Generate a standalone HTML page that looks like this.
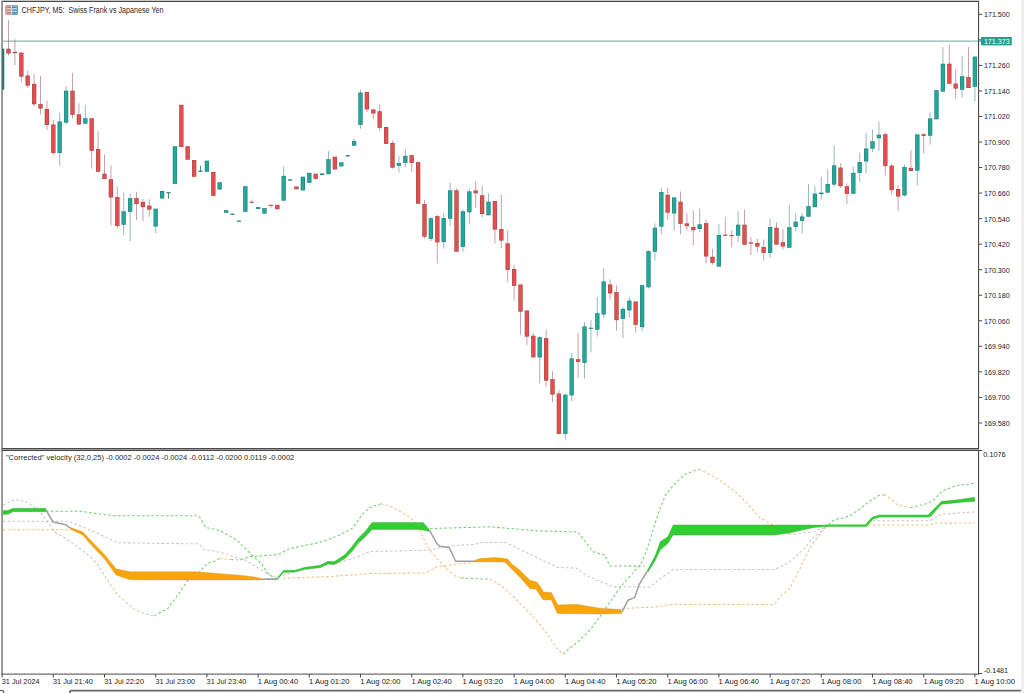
<!DOCTYPE html>
<html><head><meta charset="utf-8"><style>
html,body{margin:0;padding:0;background:#fff;width:1024px;height:693px;overflow:hidden}
svg{display:block}
text{font-family:'Liberation Sans',sans-serif}
</style></head><body>
<svg width="1024" height="693" viewBox="0 0 1024 693">
<rect x="0" y="0" width="1024" height="693" fill="#ffffff"/>
<rect x="1021" y="0" width="3" height="693" fill="#eeeeee"/>
<rect x="1.5" y="0" width="977.5" height="1" fill="#cacaca"/>
<defs><clipPath id="cm"><rect x="2.8" y="2" width="975.4" height="446"/></clipPath><clipPath id="ci"><rect x="2.8" y="451" width="975.4" height="222.5"/></clipPath></defs>
<g clip-path="url(#cm)">
<rect x="2" y="40.6" width="976.5" height="1" fill="#6aaaa6"/>
<rect x="1.60" y="46.00" width="1" height="46.00" fill="#5a8e90" opacity="0.62"/>
<rect x="0.00" y="48.80" width="4.2" height="40.70" fill="#26a69a"/>
<rect x="0.25" y="49.05" width="3.7" height="40.20" fill="none" stroke="#2a5e58" stroke-width="0.5" stroke-opacity="0.55"/>
<rect x="8.00" y="20.20" width="1" height="35.50" fill="#a86878" opacity="0.62"/>
<rect x="6.40" y="48.80" width="4.2" height="4.60" fill="#e2504e"/>
<rect x="6.65" y="49.05" width="3.7" height="4.10" fill="none" stroke="#6a4040" stroke-width="0.5" stroke-opacity="0.55"/>
<rect x="14.40" y="39.20" width="1" height="26.00" fill="#a86878" opacity="0.62"/>
<rect x="12.80" y="51.90" width="4.2" height="1.20" fill="#e2504e"/>
<rect x="13.05" y="52.15" width="3.7" height="0.70" fill="none" stroke="#6a4040" stroke-width="0.5" stroke-opacity="0.55"/>
<rect x="20.80" y="52.70" width="1" height="29.50" fill="#a86878" opacity="0.62"/>
<rect x="19.20" y="52.70" width="4.2" height="23.80" fill="#e2504e"/>
<rect x="19.45" y="52.95" width="3.7" height="23.30" fill="none" stroke="#6a4040" stroke-width="0.5" stroke-opacity="0.55"/>
<rect x="27.20" y="70.40" width="1" height="17.30" fill="#a86878" opacity="0.62"/>
<rect x="25.60" y="75.60" width="4.2" height="10.00" fill="#e2504e"/>
<rect x="25.85" y="75.85" width="3.7" height="9.50" fill="none" stroke="#6a4040" stroke-width="0.5" stroke-opacity="0.55"/>
<rect x="33.60" y="73.90" width="1" height="32.50" fill="#a86878" opacity="0.62"/>
<rect x="32.00" y="83.90" width="4.2" height="20.30" fill="#e2504e"/>
<rect x="32.25" y="84.15" width="3.7" height="19.80" fill="none" stroke="#6a4040" stroke-width="0.5" stroke-opacity="0.55"/>
<rect x="40.00" y="76.00" width="1" height="38.60" fill="#a86878" opacity="0.62"/>
<rect x="38.40" y="104.20" width="4.2" height="4.30" fill="#e2504e"/>
<rect x="38.65" y="104.45" width="3.7" height="3.80" fill="none" stroke="#6a4040" stroke-width="0.5" stroke-opacity="0.55"/>
<rect x="46.40" y="100.70" width="1" height="29.30" fill="#a86878" opacity="0.62"/>
<rect x="44.80" y="109.00" width="4.2" height="16.00" fill="#e2504e"/>
<rect x="45.05" y="109.25" width="3.7" height="15.50" fill="none" stroke="#6a4040" stroke-width="0.5" stroke-opacity="0.55"/>
<rect x="52.80" y="119.80" width="1" height="34.90" fill="#a86878" opacity="0.62"/>
<rect x="51.20" y="124.60" width="4.2" height="28.40" fill="#e2504e"/>
<rect x="51.45" y="124.85" width="3.7" height="27.90" fill="none" stroke="#6a4040" stroke-width="0.5" stroke-opacity="0.55"/>
<rect x="59.20" y="112.80" width="1" height="53.20" fill="#5a8e90" opacity="0.62"/>
<rect x="57.60" y="121.50" width="4.2" height="31.50" fill="#26a69a"/>
<rect x="57.85" y="121.75" width="3.7" height="31.00" fill="none" stroke="#2a5e58" stroke-width="0.5" stroke-opacity="0.55"/>
<rect x="65.60" y="86.30" width="1" height="37.70" fill="#5a8e90" opacity="0.62"/>
<rect x="64.00" y="90.80" width="4.2" height="31.70" fill="#26a69a"/>
<rect x="64.25" y="91.05" width="3.7" height="31.20" fill="none" stroke="#2a5e58" stroke-width="0.5" stroke-opacity="0.55"/>
<rect x="72.00" y="73.00" width="1" height="45.60" fill="#a86878" opacity="0.62"/>
<rect x="70.40" y="90.80" width="4.2" height="24.00" fill="#e2504e"/>
<rect x="70.65" y="91.05" width="3.7" height="23.50" fill="none" stroke="#6a4040" stroke-width="0.5" stroke-opacity="0.55"/>
<rect x="78.40" y="103.30" width="1" height="21.70" fill="#a86878" opacity="0.62"/>
<rect x="76.80" y="114.50" width="4.2" height="9.90" fill="#e2504e"/>
<rect x="77.05" y="114.75" width="3.7" height="9.40" fill="none" stroke="#6a4040" stroke-width="0.5" stroke-opacity="0.55"/>
<rect x="84.80" y="105.00" width="1" height="18.60" fill="#5a8e90" opacity="0.62"/>
<rect x="83.20" y="118.40" width="4.2" height="5.20" fill="#26a69a"/>
<rect x="83.45" y="118.65" width="3.7" height="4.70" fill="none" stroke="#2a5e58" stroke-width="0.5" stroke-opacity="0.55"/>
<rect x="91.20" y="118.40" width="1" height="50.20" fill="#a86878" opacity="0.62"/>
<rect x="89.60" y="118.40" width="4.2" height="32.40" fill="#e2504e"/>
<rect x="89.85" y="118.65" width="3.7" height="31.90" fill="none" stroke="#6a4040" stroke-width="0.5" stroke-opacity="0.55"/>
<rect x="97.60" y="131.40" width="1" height="40.30" fill="#a86878" opacity="0.62"/>
<rect x="96.00" y="149.00" width="4.2" height="22.70" fill="#e2504e"/>
<rect x="96.25" y="149.25" width="3.7" height="22.20" fill="none" stroke="#6a4040" stroke-width="0.5" stroke-opacity="0.55"/>
<rect x="104.00" y="154.70" width="1" height="24.30" fill="#a86878" opacity="0.62"/>
<rect x="102.40" y="173.80" width="4.2" height="5.20" fill="#e2504e"/>
<rect x="102.65" y="174.05" width="3.7" height="4.70" fill="none" stroke="#6a4040" stroke-width="0.5" stroke-opacity="0.55"/>
<rect x="110.40" y="165.10" width="1" height="60.50" fill="#a86878" opacity="0.62"/>
<rect x="108.80" y="179.30" width="4.2" height="18.10" fill="#e2504e"/>
<rect x="109.05" y="179.55" width="3.7" height="17.60" fill="none" stroke="#6a4040" stroke-width="0.5" stroke-opacity="0.55"/>
<rect x="116.80" y="186.70" width="1" height="41.50" fill="#a86878" opacity="0.62"/>
<rect x="115.20" y="197.10" width="4.2" height="28.90" fill="#e2504e"/>
<rect x="115.45" y="197.35" width="3.7" height="28.40" fill="none" stroke="#6a4040" stroke-width="0.5" stroke-opacity="0.55"/>
<rect x="123.20" y="192.70" width="1" height="42.40" fill="#5a8e90" opacity="0.62"/>
<rect x="121.60" y="211.40" width="4.2" height="13.30" fill="#26a69a"/>
<rect x="121.85" y="211.65" width="3.7" height="12.80" fill="none" stroke="#2a5e58" stroke-width="0.5" stroke-opacity="0.55"/>
<rect x="129.60" y="193.60" width="1" height="47.60" fill="#5a8e90" opacity="0.62"/>
<rect x="128.00" y="198.20" width="4.2" height="13.60" fill="#26a69a"/>
<rect x="128.25" y="198.45" width="3.7" height="13.10" fill="none" stroke="#2a5e58" stroke-width="0.5" stroke-opacity="0.55"/>
<rect x="136.00" y="191.80" width="1" height="28.20" fill="#a86878" opacity="0.62"/>
<rect x="134.40" y="198.20" width="4.2" height="5.80" fill="#e2504e"/>
<rect x="134.65" y="198.45" width="3.7" height="5.30" fill="none" stroke="#6a4040" stroke-width="0.5" stroke-opacity="0.55"/>
<rect x="142.40" y="198.80" width="1" height="22.50" fill="#a86878" opacity="0.62"/>
<rect x="140.80" y="201.90" width="4.2" height="5.20" fill="#e2504e"/>
<rect x="141.05" y="202.15" width="3.7" height="4.70" fill="none" stroke="#6a4040" stroke-width="0.5" stroke-opacity="0.55"/>
<rect x="148.80" y="199.30" width="1" height="17.30" fill="#a86878" opacity="0.62"/>
<rect x="147.20" y="205.70" width="4.2" height="3.80" fill="#e2504e"/>
<rect x="147.45" y="205.95" width="3.7" height="3.30" fill="none" stroke="#6a4040" stroke-width="0.5" stroke-opacity="0.55"/>
<rect x="155.20" y="208.80" width="1" height="24.60" fill="#5a8e90" opacity="0.62"/>
<rect x="153.60" y="208.80" width="4.2" height="17.70" fill="#26a69a"/>
<rect x="153.85" y="209.05" width="3.7" height="17.20" fill="none" stroke="#2a5e58" stroke-width="0.5" stroke-opacity="0.55"/>
<rect x="161.60" y="191.00" width="1" height="7.40" fill="#5a8e90" opacity="0.62"/>
<rect x="160.00" y="191.00" width="4.2" height="7.40" fill="#26a69a"/>
<rect x="160.25" y="191.25" width="3.7" height="6.90" fill="none" stroke="#2a5e58" stroke-width="0.5" stroke-opacity="0.55"/>
<rect x="168.00" y="192.00" width="1" height="6.60" fill="#3f867c" opacity="0.95"/>
<rect x="166.40" y="192.00" width="4.2" height="1.40" fill="#3f867c" opacity="0.9"/>
<rect x="174.40" y="146.40" width="1" height="37.40" fill="#5a8e90" opacity="0.62"/>
<rect x="172.80" y="146.40" width="4.2" height="37.40" fill="#26a69a"/>
<rect x="173.05" y="146.65" width="3.7" height="36.90" fill="none" stroke="#2a5e58" stroke-width="0.5" stroke-opacity="0.55"/>
<rect x="180.80" y="104.90" width="1" height="42.10" fill="#a86878" opacity="0.62"/>
<rect x="179.20" y="104.90" width="4.2" height="42.10" fill="#e2504e"/>
<rect x="179.45" y="105.15" width="3.7" height="41.60" fill="none" stroke="#6a4040" stroke-width="0.5" stroke-opacity="0.55"/>
<rect x="187.20" y="146.40" width="1" height="13.20" fill="#a86878" opacity="0.62"/>
<rect x="185.60" y="146.40" width="4.2" height="13.20" fill="#e2504e"/>
<rect x="185.85" y="146.65" width="3.7" height="12.70" fill="none" stroke="#6a4040" stroke-width="0.5" stroke-opacity="0.55"/>
<rect x="193.60" y="160.00" width="1" height="16.70" fill="#a86878" opacity="0.62"/>
<rect x="192.00" y="160.00" width="4.2" height="16.70" fill="#e2504e"/>
<rect x="192.25" y="160.25" width="3.7" height="16.20" fill="none" stroke="#6a4040" stroke-width="0.5" stroke-opacity="0.55"/>
<rect x="200.00" y="165.60" width="1" height="6.00" fill="#3f867c" opacity="0.95"/>
<rect x="198.40" y="170.60" width="4.2" height="1.40" fill="#3f867c" opacity="0.9"/>
<rect x="206.40" y="160.80" width="1" height="10.90" fill="#5a8e90" opacity="0.62"/>
<rect x="204.80" y="160.80" width="4.2" height="10.90" fill="#26a69a"/>
<rect x="205.05" y="161.05" width="3.7" height="10.40" fill="none" stroke="#2a5e58" stroke-width="0.5" stroke-opacity="0.55"/>
<rect x="212.80" y="172.00" width="1" height="23.80" fill="#a86878" opacity="0.62"/>
<rect x="211.20" y="172.00" width="4.2" height="23.80" fill="#e2504e"/>
<rect x="211.45" y="172.25" width="3.7" height="23.30" fill="none" stroke="#6a4040" stroke-width="0.5" stroke-opacity="0.55"/>
<rect x="219.20" y="182.40" width="1" height="7.00" fill="#5a8e90" opacity="0.62"/>
<rect x="217.60" y="182.40" width="4.2" height="7.00" fill="#26a69a"/>
<rect x="217.85" y="182.65" width="3.7" height="6.50" fill="none" stroke="#2a5e58" stroke-width="0.5" stroke-opacity="0.55"/>
<rect x="225.60" y="210.30" width="1" height="2.40" fill="#5a8e90" opacity="0.62"/>
<rect x="224.00" y="210.30" width="4.2" height="2.40" fill="#26a69a"/>
<rect x="224.25" y="210.55" width="3.7" height="1.90" fill="none" stroke="#2a5e58" stroke-width="0.5" stroke-opacity="0.55"/>
<rect x="232.00" y="213.60" width="1" height="1.00" fill="#3f867c" opacity="0.95"/>
<rect x="230.40" y="213.60" width="4.2" height="1.40" fill="#3f867c" opacity="0.9"/>
<rect x="238.40" y="220.50" width="1" height="1.00" fill="#3f867c" opacity="0.95"/>
<rect x="236.80" y="220.50" width="4.2" height="1.40" fill="#3f867c" opacity="0.9"/>
<rect x="244.80" y="186.40" width="1" height="25.40" fill="#5a8e90" opacity="0.62"/>
<rect x="243.20" y="186.40" width="4.2" height="25.40" fill="#26a69a"/>
<rect x="243.45" y="186.65" width="3.7" height="24.90" fill="none" stroke="#2a5e58" stroke-width="0.5" stroke-opacity="0.55"/>
<rect x="251.20" y="199.70" width="1" height="3.10" fill="#a86878" opacity="0.62"/>
<rect x="249.60" y="201.80" width="4.2" height="1.00" fill="#e2504e"/>
<rect x="249.85" y="202.05" width="3.7" height="0.50" fill="none" stroke="#6a4040" stroke-width="0.5" stroke-opacity="0.55"/>
<rect x="257.60" y="207.10" width="1" height="1.80" fill="#5a8e90" opacity="0.62"/>
<rect x="256.00" y="207.10" width="4.2" height="1.80" fill="#26a69a"/>
<rect x="256.25" y="207.35" width="3.7" height="1.30" fill="none" stroke="#2a5e58" stroke-width="0.5" stroke-opacity="0.55"/>
<rect x="264.00" y="208.20" width="1" height="5.30" fill="#5a8e90" opacity="0.62"/>
<rect x="262.40" y="208.20" width="4.2" height="5.30" fill="#26a69a"/>
<rect x="262.65" y="208.45" width="3.7" height="4.80" fill="none" stroke="#2a5e58" stroke-width="0.5" stroke-opacity="0.55"/>
<rect x="270.40" y="204.80" width="1" height="3.10" fill="#a86878" opacity="0.62"/>
<rect x="268.80" y="204.80" width="4.2" height="1.00" fill="#e2504e"/>
<rect x="269.05" y="205.05" width="3.7" height="0.50" fill="none" stroke="#6a4040" stroke-width="0.5" stroke-opacity="0.55"/>
<rect x="276.80" y="204.90" width="1" height="4.30" fill="#a86878" opacity="0.62"/>
<rect x="275.20" y="204.90" width="4.2" height="4.30" fill="#e2504e"/>
<rect x="275.45" y="205.15" width="3.7" height="3.80" fill="none" stroke="#6a4040" stroke-width="0.5" stroke-opacity="0.55"/>
<rect x="283.20" y="166.40" width="1" height="34.20" fill="#5a8e90" opacity="0.62"/>
<rect x="281.60" y="175.90" width="4.2" height="24.70" fill="#26a69a"/>
<rect x="281.85" y="176.15" width="3.7" height="24.20" fill="none" stroke="#2a5e58" stroke-width="0.5" stroke-opacity="0.55"/>
<rect x="289.60" y="179.20" width="1" height="1.80" fill="#3f867c" opacity="0.95"/>
<rect x="288.00" y="179.20" width="4.2" height="1.40" fill="#3f867c" opacity="0.9"/>
<rect x="296.00" y="186.60" width="1" height="2.60" fill="#a86878" opacity="0.62"/>
<rect x="294.40" y="186.60" width="4.2" height="2.60" fill="#e2504e"/>
<rect x="294.65" y="186.85" width="3.7" height="2.10" fill="none" stroke="#6a4040" stroke-width="0.5" stroke-opacity="0.55"/>
<rect x="302.40" y="176.80" width="1" height="13.50" fill="#5a8e90" opacity="0.62"/>
<rect x="300.80" y="176.80" width="4.2" height="13.50" fill="#26a69a"/>
<rect x="301.05" y="177.05" width="3.7" height="13.00" fill="none" stroke="#2a5e58" stroke-width="0.5" stroke-opacity="0.55"/>
<rect x="308.80" y="172.90" width="1" height="9.90" fill="#5a8e90" opacity="0.62"/>
<rect x="307.20" y="172.90" width="4.2" height="9.90" fill="#26a69a"/>
<rect x="307.45" y="173.15" width="3.7" height="9.40" fill="none" stroke="#2a5e58" stroke-width="0.5" stroke-opacity="0.55"/>
<rect x="315.20" y="173.80" width="1" height="5.90" fill="#a86878" opacity="0.62"/>
<rect x="313.60" y="173.80" width="4.2" height="5.00" fill="#e2504e"/>
<rect x="313.85" y="174.05" width="3.7" height="4.50" fill="none" stroke="#6a4040" stroke-width="0.5" stroke-opacity="0.55"/>
<rect x="321.60" y="173.60" width="1" height="1.40" fill="#5a8e90" opacity="0.62"/>
<rect x="320.00" y="173.60" width="4.2" height="1.40" fill="#26a69a"/>
<rect x="320.25" y="173.85" width="3.7" height="0.90" fill="none" stroke="#2a5e58" stroke-width="0.5" stroke-opacity="0.55"/>
<rect x="328.00" y="151.10" width="1" height="23.00" fill="#5a8e90" opacity="0.62"/>
<rect x="326.40" y="159.20" width="4.2" height="14.90" fill="#26a69a"/>
<rect x="326.65" y="159.45" width="3.7" height="14.40" fill="none" stroke="#2a5e58" stroke-width="0.5" stroke-opacity="0.55"/>
<rect x="334.40" y="156.80" width="1" height="12.60" fill="#a86878" opacity="0.62"/>
<rect x="332.80" y="156.80" width="4.2" height="12.60" fill="#e2504e"/>
<rect x="333.05" y="157.05" width="3.7" height="12.10" fill="none" stroke="#6a4040" stroke-width="0.5" stroke-opacity="0.55"/>
<rect x="340.80" y="162.40" width="1" height="3.90" fill="#5a8e90" opacity="0.62"/>
<rect x="339.20" y="162.40" width="4.2" height="3.90" fill="#26a69a"/>
<rect x="339.45" y="162.65" width="3.7" height="3.40" fill="none" stroke="#2a5e58" stroke-width="0.5" stroke-opacity="0.55"/>
<rect x="347.20" y="155.00" width="1" height="2.00" fill="#3f867c" opacity="0.95"/>
<rect x="345.60" y="155.00" width="4.2" height="1.40" fill="#3f867c" opacity="0.9"/>
<rect x="353.60" y="138.70" width="1" height="6.90" fill="#5a8e90" opacity="0.62"/>
<rect x="352.00" y="141.10" width="4.2" height="4.50" fill="#26a69a"/>
<rect x="352.25" y="141.35" width="3.7" height="4.00" fill="none" stroke="#2a5e58" stroke-width="0.5" stroke-opacity="0.55"/>
<rect x="360.00" y="89.70" width="1" height="39.00" fill="#5a8e90" opacity="0.62"/>
<rect x="358.40" y="92.70" width="4.2" height="32.20" fill="#26a69a"/>
<rect x="358.65" y="92.95" width="3.7" height="31.70" fill="none" stroke="#2a5e58" stroke-width="0.5" stroke-opacity="0.55"/>
<rect x="366.40" y="92.00" width="1" height="20.20" fill="#a86878" opacity="0.62"/>
<rect x="364.80" y="92.00" width="4.2" height="17.30" fill="#e2504e"/>
<rect x="365.05" y="92.25" width="3.7" height="16.80" fill="none" stroke="#6a4040" stroke-width="0.5" stroke-opacity="0.55"/>
<rect x="372.80" y="108.80" width="1" height="10.40" fill="#a86878" opacity="0.62"/>
<rect x="371.20" y="109.60" width="4.2" height="3.80" fill="#e2504e"/>
<rect x="371.45" y="109.85" width="3.7" height="3.30" fill="none" stroke="#6a4040" stroke-width="0.5" stroke-opacity="0.55"/>
<rect x="379.20" y="104.10" width="1" height="26.70" fill="#a86878" opacity="0.62"/>
<rect x="377.60" y="111.40" width="4.2" height="16.40" fill="#e2504e"/>
<rect x="377.85" y="111.65" width="3.7" height="15.90" fill="none" stroke="#6a4040" stroke-width="0.5" stroke-opacity="0.55"/>
<rect x="385.60" y="127.00" width="1" height="16.90" fill="#a86878" opacity="0.62"/>
<rect x="384.00" y="127.00" width="4.2" height="16.90" fill="#e2504e"/>
<rect x="384.25" y="127.25" width="3.7" height="16.40" fill="none" stroke="#6a4040" stroke-width="0.5" stroke-opacity="0.55"/>
<rect x="392.00" y="140.50" width="1" height="28.00" fill="#a86878" opacity="0.62"/>
<rect x="390.40" y="143.00" width="4.2" height="24.60" fill="#e2504e"/>
<rect x="390.65" y="143.25" width="3.7" height="24.10" fill="none" stroke="#6a4040" stroke-width="0.5" stroke-opacity="0.55"/>
<rect x="398.40" y="155.80" width="1" height="16.50" fill="#5a8e90" opacity="0.62"/>
<rect x="396.80" y="163.10" width="4.2" height="2.60" fill="#26a69a"/>
<rect x="397.05" y="163.35" width="3.7" height="2.10" fill="none" stroke="#2a5e58" stroke-width="0.5" stroke-opacity="0.55"/>
<rect x="404.80" y="148.70" width="1" height="18.10" fill="#5a8e90" opacity="0.62"/>
<rect x="403.20" y="155.90" width="4.2" height="7.00" fill="#26a69a"/>
<rect x="403.45" y="156.15" width="3.7" height="6.50" fill="none" stroke="#2a5e58" stroke-width="0.5" stroke-opacity="0.55"/>
<rect x="411.20" y="155.20" width="1" height="16.80" fill="#a86878" opacity="0.62"/>
<rect x="409.60" y="155.20" width="4.2" height="7.70" fill="#e2504e"/>
<rect x="409.85" y="155.45" width="3.7" height="7.20" fill="none" stroke="#6a4040" stroke-width="0.5" stroke-opacity="0.55"/>
<rect x="417.60" y="162.20" width="1" height="41.50" fill="#a86878" opacity="0.62"/>
<rect x="416.00" y="162.20" width="4.2" height="41.50" fill="#e2504e"/>
<rect x="416.25" y="162.45" width="3.7" height="41.00" fill="none" stroke="#6a4040" stroke-width="0.5" stroke-opacity="0.55"/>
<rect x="424.00" y="199.70" width="1" height="39.20" fill="#a86878" opacity="0.62"/>
<rect x="422.40" y="204.10" width="4.2" height="32.60" fill="#e2504e"/>
<rect x="422.65" y="204.35" width="3.7" height="32.10" fill="none" stroke="#6a4040" stroke-width="0.5" stroke-opacity="0.55"/>
<rect x="430.40" y="217.00" width="1" height="24.40" fill="#5a8e90" opacity="0.62"/>
<rect x="428.80" y="218.30" width="4.2" height="20.60" fill="#26a69a"/>
<rect x="429.05" y="218.55" width="3.7" height="20.10" fill="none" stroke="#2a5e58" stroke-width="0.5" stroke-opacity="0.55"/>
<rect x="436.80" y="214.80" width="1" height="48.80" fill="#a86878" opacity="0.62"/>
<rect x="435.20" y="216.20" width="4.2" height="26.10" fill="#e2504e"/>
<rect x="435.45" y="216.45" width="3.7" height="25.60" fill="none" stroke="#6a4040" stroke-width="0.5" stroke-opacity="0.55"/>
<rect x="443.20" y="213.10" width="1" height="35.50" fill="#5a8e90" opacity="0.62"/>
<rect x="441.60" y="218.00" width="4.2" height="24.10" fill="#26a69a"/>
<rect x="441.85" y="218.25" width="3.7" height="23.60" fill="none" stroke="#2a5e58" stroke-width="0.5" stroke-opacity="0.55"/>
<rect x="449.60" y="182.60" width="1" height="43.50" fill="#5a8e90" opacity="0.62"/>
<rect x="448.00" y="190.40" width="4.2" height="28.30" fill="#26a69a"/>
<rect x="448.25" y="190.65" width="3.7" height="27.80" fill="none" stroke="#2a5e58" stroke-width="0.5" stroke-opacity="0.55"/>
<rect x="456.00" y="188.50" width="1" height="63.10" fill="#a86878" opacity="0.62"/>
<rect x="454.40" y="190.40" width="4.2" height="61.20" fill="#e2504e"/>
<rect x="454.65" y="190.65" width="3.7" height="60.70" fill="none" stroke="#6a4040" stroke-width="0.5" stroke-opacity="0.55"/>
<rect x="462.40" y="209.60" width="1" height="41.90" fill="#5a8e90" opacity="0.62"/>
<rect x="460.80" y="211.40" width="4.2" height="35.50" fill="#26a69a"/>
<rect x="461.05" y="211.65" width="3.7" height="35.00" fill="none" stroke="#2a5e58" stroke-width="0.5" stroke-opacity="0.55"/>
<rect x="468.80" y="188.50" width="1" height="35.90" fill="#5a8e90" opacity="0.62"/>
<rect x="467.20" y="191.50" width="4.2" height="20.70" fill="#26a69a"/>
<rect x="467.45" y="191.75" width="3.7" height="20.20" fill="none" stroke="#2a5e58" stroke-width="0.5" stroke-opacity="0.55"/>
<rect x="475.20" y="181.10" width="1" height="27.10" fill="#a86878" opacity="0.62"/>
<rect x="473.60" y="190.60" width="4.2" height="2.60" fill="#e2504e"/>
<rect x="473.85" y="190.85" width="3.7" height="2.10" fill="none" stroke="#6a4040" stroke-width="0.5" stroke-opacity="0.55"/>
<rect x="481.60" y="185.70" width="1" height="31.40" fill="#a86878" opacity="0.62"/>
<rect x="480.00" y="195.40" width="4.2" height="18.60" fill="#e2504e"/>
<rect x="480.25" y="195.65" width="3.7" height="18.10" fill="none" stroke="#6a4040" stroke-width="0.5" stroke-opacity="0.55"/>
<rect x="488.00" y="193.20" width="1" height="22.00" fill="#5a8e90" opacity="0.62"/>
<rect x="486.40" y="201.80" width="4.2" height="13.40" fill="#26a69a"/>
<rect x="486.65" y="202.05" width="3.7" height="12.90" fill="none" stroke="#2a5e58" stroke-width="0.5" stroke-opacity="0.55"/>
<rect x="494.40" y="201.00" width="1" height="42.40" fill="#a86878" opacity="0.62"/>
<rect x="492.80" y="201.00" width="4.2" height="28.50" fill="#e2504e"/>
<rect x="493.05" y="201.25" width="3.7" height="28.00" fill="none" stroke="#6a4040" stroke-width="0.5" stroke-opacity="0.55"/>
<rect x="500.80" y="194.90" width="1" height="53.20" fill="#a86878" opacity="0.62"/>
<rect x="499.20" y="229.00" width="4.2" height="11.50" fill="#e2504e"/>
<rect x="499.45" y="229.25" width="3.7" height="11.00" fill="none" stroke="#6a4040" stroke-width="0.5" stroke-opacity="0.55"/>
<rect x="507.20" y="230.10" width="1" height="51.90" fill="#a86878" opacity="0.62"/>
<rect x="505.60" y="243.40" width="4.2" height="26.60" fill="#e2504e"/>
<rect x="505.85" y="243.65" width="3.7" height="26.10" fill="none" stroke="#6a4040" stroke-width="0.5" stroke-opacity="0.55"/>
<rect x="513.60" y="265.10" width="1" height="35.50" fill="#a86878" opacity="0.62"/>
<rect x="512.00" y="269.00" width="4.2" height="16.80" fill="#e2504e"/>
<rect x="512.25" y="269.25" width="3.7" height="16.30" fill="none" stroke="#6a4040" stroke-width="0.5" stroke-opacity="0.55"/>
<rect x="520.00" y="284.60" width="1" height="50.20" fill="#a86878" opacity="0.62"/>
<rect x="518.40" y="284.60" width="4.2" height="26.90" fill="#e2504e"/>
<rect x="518.65" y="284.85" width="3.7" height="26.40" fill="none" stroke="#6a4040" stroke-width="0.5" stroke-opacity="0.55"/>
<rect x="526.40" y="310.60" width="1" height="34.50" fill="#a86878" opacity="0.62"/>
<rect x="524.80" y="310.60" width="4.2" height="25.90" fill="#e2504e"/>
<rect x="525.05" y="310.85" width="3.7" height="25.40" fill="none" stroke="#6a4040" stroke-width="0.5" stroke-opacity="0.55"/>
<rect x="532.80" y="333.00" width="1" height="24.30" fill="#a86878" opacity="0.62"/>
<rect x="531.20" y="335.80" width="4.2" height="21.50" fill="#e2504e"/>
<rect x="531.45" y="336.05" width="3.7" height="21.00" fill="none" stroke="#6a4040" stroke-width="0.5" stroke-opacity="0.55"/>
<rect x="539.20" y="336.20" width="1" height="47.00" fill="#5a8e90" opacity="0.62"/>
<rect x="537.60" y="337.30" width="4.2" height="20.00" fill="#26a69a"/>
<rect x="537.85" y="337.55" width="3.7" height="19.50" fill="none" stroke="#2a5e58" stroke-width="0.5" stroke-opacity="0.55"/>
<rect x="545.60" y="329.60" width="1" height="57.10" fill="#a86878" opacity="0.62"/>
<rect x="544.00" y="338.20" width="4.2" height="42.40" fill="#e2504e"/>
<rect x="544.25" y="338.45" width="3.7" height="41.90" fill="none" stroke="#6a4040" stroke-width="0.5" stroke-opacity="0.55"/>
<rect x="552.00" y="371.10" width="1" height="31.20" fill="#a86878" opacity="0.62"/>
<rect x="550.40" y="379.20" width="4.2" height="15.30" fill="#e2504e"/>
<rect x="550.65" y="379.45" width="3.7" height="14.80" fill="none" stroke="#6a4040" stroke-width="0.5" stroke-opacity="0.55"/>
<rect x="558.40" y="390.10" width="1" height="43.80" fill="#a86878" opacity="0.62"/>
<rect x="556.80" y="393.60" width="4.2" height="40.30" fill="#e2504e"/>
<rect x="557.05" y="393.85" width="3.7" height="39.80" fill="none" stroke="#6a4040" stroke-width="0.5" stroke-opacity="0.55"/>
<rect x="564.80" y="393.60" width="1" height="45.90" fill="#5a8e90" opacity="0.62"/>
<rect x="563.20" y="394.80" width="4.2" height="39.10" fill="#26a69a"/>
<rect x="563.45" y="395.05" width="3.7" height="38.60" fill="none" stroke="#2a5e58" stroke-width="0.5" stroke-opacity="0.55"/>
<rect x="571.20" y="352.90" width="1" height="48.50" fill="#5a8e90" opacity="0.62"/>
<rect x="569.60" y="358.50" width="4.2" height="36.80" fill="#26a69a"/>
<rect x="569.85" y="358.75" width="3.7" height="36.30" fill="none" stroke="#2a5e58" stroke-width="0.5" stroke-opacity="0.55"/>
<rect x="577.60" y="333.00" width="1" height="45.00" fill="#a86878" opacity="0.62"/>
<rect x="576.00" y="359.30" width="4.2" height="2.60" fill="#e2504e"/>
<rect x="576.25" y="359.55" width="3.7" height="2.10" fill="none" stroke="#6a4040" stroke-width="0.5" stroke-opacity="0.55"/>
<rect x="584.00" y="322.00" width="1" height="56.50" fill="#5a8e90" opacity="0.62"/>
<rect x="582.40" y="326.50" width="4.2" height="36.40" fill="#26a69a"/>
<rect x="582.65" y="326.75" width="3.7" height="35.90" fill="none" stroke="#2a5e58" stroke-width="0.5" stroke-opacity="0.55"/>
<rect x="590.40" y="320.10" width="1" height="32.30" fill="#5a8e90" opacity="0.62"/>
<rect x="588.80" y="327.80" width="4.2" height="1.00" fill="#26a69a"/>
<rect x="589.05" y="328.05" width="3.7" height="0.50" fill="none" stroke="#2a5e58" stroke-width="0.5" stroke-opacity="0.55"/>
<rect x="596.80" y="297.10" width="1" height="39.40" fill="#5a8e90" opacity="0.62"/>
<rect x="595.20" y="313.20" width="4.2" height="16.40" fill="#26a69a"/>
<rect x="595.45" y="313.45" width="3.7" height="15.90" fill="none" stroke="#2a5e58" stroke-width="0.5" stroke-opacity="0.55"/>
<rect x="603.20" y="268.20" width="1" height="49.30" fill="#5a8e90" opacity="0.62"/>
<rect x="601.60" y="281.50" width="4.2" height="32.90" fill="#26a69a"/>
<rect x="601.85" y="281.75" width="3.7" height="32.40" fill="none" stroke="#2a5e58" stroke-width="0.5" stroke-opacity="0.55"/>
<rect x="609.60" y="279.40" width="1" height="20.00" fill="#a86878" opacity="0.62"/>
<rect x="608.00" y="284.60" width="4.2" height="8.70" fill="#e2504e"/>
<rect x="608.25" y="284.85" width="3.7" height="8.20" fill="none" stroke="#6a4040" stroke-width="0.5" stroke-opacity="0.55"/>
<rect x="616.00" y="285.50" width="1" height="45.00" fill="#a86878" opacity="0.62"/>
<rect x="614.40" y="292.10" width="4.2" height="28.00" fill="#e2504e"/>
<rect x="614.65" y="292.35" width="3.7" height="27.50" fill="none" stroke="#6a4040" stroke-width="0.5" stroke-opacity="0.55"/>
<rect x="622.40" y="306.80" width="1" height="31.50" fill="#5a8e90" opacity="0.62"/>
<rect x="620.80" y="308.90" width="4.2" height="10.00" fill="#26a69a"/>
<rect x="621.05" y="309.15" width="3.7" height="9.50" fill="none" stroke="#2a5e58" stroke-width="0.5" stroke-opacity="0.55"/>
<rect x="628.80" y="296.80" width="1" height="20.70" fill="#5a8e90" opacity="0.62"/>
<rect x="627.20" y="300.70" width="4.2" height="9.60" fill="#26a69a"/>
<rect x="627.45" y="300.95" width="3.7" height="9.10" fill="none" stroke="#2a5e58" stroke-width="0.5" stroke-opacity="0.55"/>
<rect x="635.20" y="301.60" width="1" height="31.20" fill="#a86878" opacity="0.62"/>
<rect x="633.60" y="301.60" width="4.2" height="23.20" fill="#e2504e"/>
<rect x="633.85" y="301.85" width="3.7" height="22.70" fill="none" stroke="#6a4040" stroke-width="0.5" stroke-opacity="0.55"/>
<rect x="641.60" y="285.20" width="1" height="45.80" fill="#5a8e90" opacity="0.62"/>
<rect x="640.00" y="285.30" width="4.2" height="41.80" fill="#26a69a"/>
<rect x="640.25" y="285.55" width="3.7" height="41.30" fill="none" stroke="#2a5e58" stroke-width="0.5" stroke-opacity="0.55"/>
<rect x="648.00" y="250.30" width="1" height="38.10" fill="#5a8e90" opacity="0.62"/>
<rect x="646.40" y="251.20" width="4.2" height="36.00" fill="#26a69a"/>
<rect x="646.65" y="251.45" width="3.7" height="35.50" fill="none" stroke="#2a5e58" stroke-width="0.5" stroke-opacity="0.55"/>
<rect x="654.40" y="223.50" width="1" height="37.20" fill="#5a8e90" opacity="0.62"/>
<rect x="652.80" y="227.80" width="4.2" height="23.90" fill="#26a69a"/>
<rect x="653.05" y="228.05" width="3.7" height="23.40" fill="none" stroke="#2a5e58" stroke-width="0.5" stroke-opacity="0.55"/>
<rect x="660.80" y="188.00" width="1" height="46.20" fill="#5a8e90" opacity="0.62"/>
<rect x="659.20" y="192.00" width="4.2" height="34.60" fill="#26a69a"/>
<rect x="659.45" y="192.25" width="3.7" height="34.10" fill="none" stroke="#2a5e58" stroke-width="0.5" stroke-opacity="0.55"/>
<rect x="667.20" y="188.00" width="1" height="31.70" fill="#a86878" opacity="0.62"/>
<rect x="665.60" y="194.90" width="4.2" height="17.80" fill="#e2504e"/>
<rect x="665.85" y="195.15" width="3.7" height="17.30" fill="none" stroke="#6a4040" stroke-width="0.5" stroke-opacity="0.55"/>
<rect x="673.60" y="197.50" width="1" height="32.90" fill="#5a8e90" opacity="0.62"/>
<rect x="672.00" y="197.50" width="4.2" height="15.90" fill="#26a69a"/>
<rect x="672.25" y="197.75" width="3.7" height="15.40" fill="none" stroke="#2a5e58" stroke-width="0.5" stroke-opacity="0.55"/>
<rect x="680.00" y="191.50" width="1" height="42.70" fill="#a86878" opacity="0.62"/>
<rect x="678.40" y="201.80" width="4.2" height="22.00" fill="#e2504e"/>
<rect x="678.65" y="202.05" width="3.7" height="21.50" fill="none" stroke="#6a4040" stroke-width="0.5" stroke-opacity="0.55"/>
<rect x="686.40" y="213.10" width="1" height="17.30" fill="#a86878" opacity="0.62"/>
<rect x="684.80" y="223.50" width="4.2" height="2.60" fill="#e2504e"/>
<rect x="685.05" y="223.75" width="3.7" height="2.10" fill="none" stroke="#6a4040" stroke-width="0.5" stroke-opacity="0.55"/>
<rect x="692.80" y="210.50" width="1" height="34.60" fill="#a86878" opacity="0.62"/>
<rect x="691.20" y="227.00" width="4.2" height="3.10" fill="#e2504e"/>
<rect x="691.45" y="227.25" width="3.7" height="2.60" fill="none" stroke="#6a4040" stroke-width="0.5" stroke-opacity="0.55"/>
<rect x="699.20" y="208.80" width="1" height="23.30" fill="#5a8e90" opacity="0.62"/>
<rect x="697.60" y="224.40" width="4.2" height="4.60" fill="#26a69a"/>
<rect x="697.85" y="224.65" width="3.7" height="4.10" fill="none" stroke="#2a5e58" stroke-width="0.5" stroke-opacity="0.55"/>
<rect x="705.60" y="219.20" width="1" height="44.30" fill="#a86878" opacity="0.62"/>
<rect x="704.00" y="223.20" width="4.2" height="33.20" fill="#e2504e"/>
<rect x="704.25" y="223.45" width="3.7" height="32.70" fill="none" stroke="#6a4040" stroke-width="0.5" stroke-opacity="0.55"/>
<rect x="712.00" y="248.90" width="1" height="15.60" fill="#a86878" opacity="0.62"/>
<rect x="710.40" y="256.80" width="4.2" height="6.00" fill="#e2504e"/>
<rect x="710.65" y="257.05" width="3.7" height="5.50" fill="none" stroke="#6a4040" stroke-width="0.5" stroke-opacity="0.55"/>
<rect x="718.40" y="224.20" width="1" height="42.30" fill="#5a8e90" opacity="0.62"/>
<rect x="716.80" y="235.00" width="4.2" height="31.50" fill="#26a69a"/>
<rect x="717.05" y="235.25" width="3.7" height="31.00" fill="none" stroke="#2a5e58" stroke-width="0.5" stroke-opacity="0.55"/>
<rect x="724.80" y="217.00" width="1" height="18.70" fill="#a86878" opacity="0.62"/>
<rect x="723.20" y="234.70" width="4.2" height="1.00" fill="#e2504e"/>
<rect x="723.45" y="234.95" width="3.7" height="0.50" fill="none" stroke="#6a4040" stroke-width="0.5" stroke-opacity="0.55"/>
<rect x="731.20" y="230.40" width="1" height="16.60" fill="#a86878" opacity="0.62"/>
<rect x="729.60" y="235.10" width="4.2" height="1.00" fill="#e2504e"/>
<rect x="729.85" y="235.35" width="3.7" height="0.50" fill="none" stroke="#6a4040" stroke-width="0.5" stroke-opacity="0.55"/>
<rect x="737.60" y="211.30" width="1" height="30.80" fill="#5a8e90" opacity="0.62"/>
<rect x="736.00" y="224.80" width="4.2" height="10.80" fill="#26a69a"/>
<rect x="736.25" y="225.05" width="3.7" height="10.30" fill="none" stroke="#2a5e58" stroke-width="0.5" stroke-opacity="0.55"/>
<rect x="744.00" y="209.60" width="1" height="35.10" fill="#a86878" opacity="0.62"/>
<rect x="742.40" y="224.80" width="4.2" height="19.90" fill="#e2504e"/>
<rect x="742.65" y="225.05" width="3.7" height="19.40" fill="none" stroke="#6a4040" stroke-width="0.5" stroke-opacity="0.55"/>
<rect x="750.40" y="237.00" width="1" height="18.10" fill="#a86878" opacity="0.62"/>
<rect x="748.80" y="242.50" width="4.2" height="1.00" fill="#e2504e"/>
<rect x="749.05" y="242.75" width="3.7" height="0.50" fill="none" stroke="#6a4040" stroke-width="0.5" stroke-opacity="0.55"/>
<rect x="756.80" y="238.70" width="1" height="13.80" fill="#a86878" opacity="0.62"/>
<rect x="755.20" y="243.00" width="4.2" height="3.50" fill="#e2504e"/>
<rect x="755.45" y="243.25" width="3.7" height="3.00" fill="none" stroke="#6a4040" stroke-width="0.5" stroke-opacity="0.55"/>
<rect x="763.20" y="239.50" width="1" height="21.30" fill="#a86878" opacity="0.62"/>
<rect x="761.60" y="247.00" width="4.2" height="5.90" fill="#e2504e"/>
<rect x="761.85" y="247.25" width="3.7" height="5.40" fill="none" stroke="#6a4040" stroke-width="0.5" stroke-opacity="0.55"/>
<rect x="769.60" y="218.50" width="1" height="39.20" fill="#5a8e90" opacity="0.62"/>
<rect x="768.00" y="227.00" width="4.2" height="25.90" fill="#26a69a"/>
<rect x="768.25" y="227.25" width="3.7" height="25.40" fill="none" stroke="#2a5e58" stroke-width="0.5" stroke-opacity="0.55"/>
<rect x="776.00" y="222.40" width="1" height="22.10" fill="#a86878" opacity="0.62"/>
<rect x="774.40" y="227.80" width="4.2" height="16.70" fill="#e2504e"/>
<rect x="774.65" y="228.05" width="3.7" height="16.20" fill="none" stroke="#6a4040" stroke-width="0.5" stroke-opacity="0.55"/>
<rect x="782.40" y="229.00" width="1" height="20.50" fill="#a86878" opacity="0.62"/>
<rect x="780.80" y="242.20" width="4.2" height="4.20" fill="#e2504e"/>
<rect x="781.05" y="242.45" width="3.7" height="3.70" fill="none" stroke="#6a4040" stroke-width="0.5" stroke-opacity="0.55"/>
<rect x="788.80" y="204.80" width="1" height="42.90" fill="#5a8e90" opacity="0.62"/>
<rect x="787.20" y="227.30" width="4.2" height="20.40" fill="#26a69a"/>
<rect x="787.45" y="227.55" width="3.7" height="19.90" fill="none" stroke="#2a5e58" stroke-width="0.5" stroke-opacity="0.55"/>
<rect x="795.20" y="213.60" width="1" height="17.70" fill="#5a8e90" opacity="0.62"/>
<rect x="793.60" y="221.80" width="4.2" height="5.20" fill="#26a69a"/>
<rect x="793.85" y="222.05" width="3.7" height="4.70" fill="none" stroke="#2a5e58" stroke-width="0.5" stroke-opacity="0.55"/>
<rect x="801.60" y="213.10" width="1" height="20.40" fill="#5a8e90" opacity="0.62"/>
<rect x="800.00" y="216.60" width="4.2" height="4.30" fill="#26a69a"/>
<rect x="800.25" y="216.85" width="3.7" height="3.80" fill="none" stroke="#2a5e58" stroke-width="0.5" stroke-opacity="0.55"/>
<rect x="808.00" y="184.00" width="1" height="32.60" fill="#5a8e90" opacity="0.62"/>
<rect x="806.40" y="206.20" width="4.2" height="10.40" fill="#26a69a"/>
<rect x="806.65" y="206.45" width="3.7" height="9.90" fill="none" stroke="#2a5e58" stroke-width="0.5" stroke-opacity="0.55"/>
<rect x="814.40" y="186.30" width="1" height="20.80" fill="#5a8e90" opacity="0.62"/>
<rect x="812.80" y="193.70" width="4.2" height="13.40" fill="#26a69a"/>
<rect x="813.05" y="193.95" width="3.7" height="12.90" fill="none" stroke="#2a5e58" stroke-width="0.5" stroke-opacity="0.55"/>
<rect x="820.80" y="176.80" width="1" height="22.80" fill="#5a8e90" opacity="0.62"/>
<rect x="819.20" y="192.70" width="4.2" height="1.40" fill="#26a69a"/>
<rect x="819.45" y="192.95" width="3.7" height="0.90" fill="none" stroke="#2a5e58" stroke-width="0.5" stroke-opacity="0.55"/>
<rect x="827.20" y="169.50" width="1" height="23.10" fill="#5a8e90" opacity="0.62"/>
<rect x="825.60" y="184.00" width="4.2" height="8.60" fill="#26a69a"/>
<rect x="825.85" y="184.25" width="3.7" height="8.10" fill="none" stroke="#2a5e58" stroke-width="0.5" stroke-opacity="0.55"/>
<rect x="833.60" y="145.60" width="1" height="40.90" fill="#5a8e90" opacity="0.62"/>
<rect x="832.00" y="165.50" width="4.2" height="19.00" fill="#26a69a"/>
<rect x="832.25" y="165.75" width="3.7" height="18.50" fill="none" stroke="#2a5e58" stroke-width="0.5" stroke-opacity="0.55"/>
<rect x="840.00" y="163.50" width="1" height="24.30" fill="#a86878" opacity="0.62"/>
<rect x="838.40" y="167.70" width="4.2" height="18.40" fill="#e2504e"/>
<rect x="838.65" y="167.95" width="3.7" height="17.90" fill="none" stroke="#6a4040" stroke-width="0.5" stroke-opacity="0.55"/>
<rect x="846.40" y="183.30" width="1" height="20.70" fill="#a86878" opacity="0.62"/>
<rect x="844.80" y="186.40" width="4.2" height="7.30" fill="#e2504e"/>
<rect x="845.05" y="186.65" width="3.7" height="6.80" fill="none" stroke="#6a4040" stroke-width="0.5" stroke-opacity="0.55"/>
<rect x="852.80" y="166.50" width="1" height="27.20" fill="#5a8e90" opacity="0.62"/>
<rect x="851.20" y="172.90" width="4.2" height="20.80" fill="#26a69a"/>
<rect x="851.45" y="173.15" width="3.7" height="20.30" fill="none" stroke="#2a5e58" stroke-width="0.5" stroke-opacity="0.55"/>
<rect x="859.20" y="153.10" width="1" height="29.00" fill="#5a8e90" opacity="0.62"/>
<rect x="857.60" y="162.10" width="4.2" height="10.80" fill="#26a69a"/>
<rect x="857.85" y="162.35" width="3.7" height="10.30" fill="none" stroke="#2a5e58" stroke-width="0.5" stroke-opacity="0.55"/>
<rect x="865.60" y="132.70" width="1" height="40.70" fill="#5a8e90" opacity="0.62"/>
<rect x="864.00" y="148.60" width="4.2" height="12.70" fill="#26a69a"/>
<rect x="864.25" y="148.85" width="3.7" height="12.20" fill="none" stroke="#2a5e58" stroke-width="0.5" stroke-opacity="0.55"/>
<rect x="872.00" y="129.60" width="1" height="22.50" fill="#5a8e90" opacity="0.62"/>
<rect x="870.40" y="141.40" width="4.2" height="7.20" fill="#26a69a"/>
<rect x="870.65" y="141.65" width="3.7" height="6.70" fill="none" stroke="#2a5e58" stroke-width="0.5" stroke-opacity="0.55"/>
<rect x="878.40" y="121.50" width="1" height="29.40" fill="#5a8e90" opacity="0.62"/>
<rect x="876.80" y="134.80" width="4.2" height="3.40" fill="#26a69a"/>
<rect x="877.05" y="135.05" width="3.7" height="2.90" fill="none" stroke="#2a5e58" stroke-width="0.5" stroke-opacity="0.55"/>
<rect x="884.80" y="132.10" width="1" height="43.50" fill="#a86878" opacity="0.62"/>
<rect x="883.20" y="134.40" width="4.2" height="31.50" fill="#e2504e"/>
<rect x="883.45" y="134.65" width="3.7" height="31.00" fill="none" stroke="#6a4040" stroke-width="0.5" stroke-opacity="0.55"/>
<rect x="891.20" y="163.70" width="1" height="31.20" fill="#a86878" opacity="0.62"/>
<rect x="889.60" y="165.70" width="4.2" height="24.40" fill="#e2504e"/>
<rect x="889.85" y="165.95" width="3.7" height="23.90" fill="none" stroke="#6a4040" stroke-width="0.5" stroke-opacity="0.55"/>
<rect x="897.60" y="185.00" width="1" height="26.00" fill="#a86878" opacity="0.62"/>
<rect x="896.00" y="189.00" width="4.2" height="7.50" fill="#e2504e"/>
<rect x="896.25" y="189.25" width="3.7" height="7.00" fill="none" stroke="#6a4040" stroke-width="0.5" stroke-opacity="0.55"/>
<rect x="904.00" y="164.50" width="1" height="32.00" fill="#5a8e90" opacity="0.62"/>
<rect x="902.40" y="167.10" width="4.2" height="28.20" fill="#26a69a"/>
<rect x="902.65" y="167.35" width="3.7" height="27.70" fill="none" stroke="#2a5e58" stroke-width="0.5" stroke-opacity="0.55"/>
<rect x="910.40" y="150.30" width="1" height="20.70" fill="#a86878" opacity="0.62"/>
<rect x="908.80" y="167.90" width="4.2" height="3.10" fill="#e2504e"/>
<rect x="909.05" y="168.15" width="3.7" height="2.60" fill="none" stroke="#6a4040" stroke-width="0.5" stroke-opacity="0.55"/>
<rect x="916.80" y="134.50" width="1" height="51.10" fill="#5a8e90" opacity="0.62"/>
<rect x="915.20" y="134.50" width="4.2" height="36.00" fill="#26a69a"/>
<rect x="915.45" y="134.75" width="3.7" height="35.50" fill="none" stroke="#2a5e58" stroke-width="0.5" stroke-opacity="0.55"/>
<rect x="923.20" y="133.30" width="1" height="20.40" fill="#a86878" opacity="0.62"/>
<rect x="921.60" y="134.40" width="4.2" height="1.50" fill="#e2504e"/>
<rect x="921.85" y="134.65" width="3.7" height="1.00" fill="none" stroke="#6a4040" stroke-width="0.5" stroke-opacity="0.55"/>
<rect x="929.60" y="112.30" width="1" height="32.40" fill="#5a8e90" opacity="0.62"/>
<rect x="928.00" y="118.50" width="4.2" height="17.20" fill="#26a69a"/>
<rect x="928.25" y="118.75" width="3.7" height="16.70" fill="none" stroke="#2a5e58" stroke-width="0.5" stroke-opacity="0.55"/>
<rect x="936.00" y="90.30" width="1" height="28.90" fill="#5a8e90" opacity="0.62"/>
<rect x="934.40" y="90.30" width="4.2" height="28.90" fill="#26a69a"/>
<rect x="934.65" y="90.55" width="3.7" height="28.40" fill="none" stroke="#2a5e58" stroke-width="0.5" stroke-opacity="0.55"/>
<rect x="942.40" y="47.00" width="1" height="44.50" fill="#5a8e90" opacity="0.62"/>
<rect x="940.80" y="63.80" width="4.2" height="27.70" fill="#26a69a"/>
<rect x="941.05" y="64.05" width="3.7" height="27.20" fill="none" stroke="#2a5e58" stroke-width="0.5" stroke-opacity="0.55"/>
<rect x="948.80" y="44.70" width="1" height="39.00" fill="#a86878" opacity="0.62"/>
<rect x="947.20" y="63.80" width="4.2" height="19.90" fill="#e2504e"/>
<rect x="947.45" y="64.05" width="3.7" height="19.40" fill="none" stroke="#6a4040" stroke-width="0.5" stroke-opacity="0.55"/>
<rect x="955.20" y="69.50" width="1" height="29.00" fill="#a86878" opacity="0.62"/>
<rect x="953.60" y="83.70" width="4.2" height="4.80" fill="#e2504e"/>
<rect x="953.85" y="83.95" width="3.7" height="4.30" fill="none" stroke="#6a4040" stroke-width="0.5" stroke-opacity="0.55"/>
<rect x="961.60" y="56.00" width="1" height="41.50" fill="#5a8e90" opacity="0.62"/>
<rect x="960.00" y="76.40" width="4.2" height="13.30" fill="#26a69a"/>
<rect x="960.25" y="76.65" width="3.7" height="12.80" fill="none" stroke="#2a5e58" stroke-width="0.5" stroke-opacity="0.55"/>
<rect x="968.00" y="47.00" width="1" height="41.00" fill="#a86878" opacity="0.62"/>
<rect x="966.40" y="77.10" width="4.2" height="10.90" fill="#e2504e"/>
<rect x="966.65" y="77.35" width="3.7" height="10.40" fill="none" stroke="#6a4040" stroke-width="0.5" stroke-opacity="0.55"/>
<rect x="974.40" y="56.00" width="1" height="45.30" fill="#5a8e90" opacity="0.62"/>
<rect x="972.80" y="56.80" width="4.2" height="30.00" fill="#26a69a"/>
<rect x="973.05" y="57.05" width="3.7" height="29.50" fill="none" stroke="#2a5e58" stroke-width="0.5" stroke-opacity="0.55"/>
</g>
<g clip-path="url(#ci)">
<polyline points="3.0,505.2 15.2,499.4 28.0,502.3 41.0,512.9 49.0,524.0 55.0,532.2 63.0,536.9 75.0,545.0 84.4,552.0 94.0,560.3" fill="none" stroke="#a0a0a0" stroke-width="1.05" stroke-dasharray="2.6 2.2" stroke-linejoin="round" opacity="0.6"/>
<polyline points="94.0,560.3 99.6,567.4 108.0,581.0 117.5,594.7 132.5,608.4 145.0,614.0 154.4,615.9" fill="none" stroke="#c8a880" stroke-width="1.05" stroke-dasharray="2.6 2.2" stroke-linejoin="round" opacity="0.7"/>
<polyline points="154.4,615.9 168.0,608.4 179.0,593.4 187.2,581.0 199.8,571.3 207.6,563.4 216.4,560.5 219.3,558.6" fill="none" stroke="#4cc24c" stroke-width="1.05" stroke-dasharray="2.6 2.2" stroke-linejoin="round" opacity="0.8"/>
<polyline points="219.3,558.6 231.0,559.5" fill="none" stroke="#e8a850" stroke-width="1.05" stroke-dasharray="2.6 2.2" stroke-linejoin="round" opacity="0.72"/>
<polyline points="231.0,559.5 240.8,560.0" fill="none" stroke="#a0a0a0" stroke-width="1.05" stroke-dasharray="2.6 2.2" stroke-linejoin="round" opacity="0.6"/>
<polyline points="240.8,560.0 248.6,557.0 263.2,555.6 277.9,554.6 289.6,548.8 320.0,542.3 338.0,535.8 352.7,528.0 361.8,515.0 370.0,507.3 381.0,503.8" fill="none" stroke="#4cc24c" stroke-width="1.05" stroke-dasharray="2.6 2.2" stroke-linejoin="round" opacity="0.8"/>
<polyline points="381.0,503.8 389.5,506.0 399.9,511.2 410.3,517.7 418.0,525.5 423.2,537.9 427.8,547.0 436.9,558.6 445.3,567.7 455.7,576.2 461.0,578.0" fill="none" stroke="#e8a850" stroke-width="1.05" stroke-dasharray="2.6 2.2" stroke-linejoin="round" opacity="0.72"/>
<polyline points="461.0,578.0 489.7,579.3" fill="none" stroke="#4cc24c" stroke-width="1.05" stroke-dasharray="2.6 2.2" stroke-linejoin="round" opacity="0.8"/>
<polyline points="489.7,579.3 500.1,584.8 509.9,593.2 519.6,603.0 529.4,612.7 539.7,624.4 548.0,635.0 557.4,649.0 563.0,654.0" fill="none" stroke="#e8a850" stroke-width="1.05" stroke-dasharray="2.6 2.2" stroke-linejoin="round" opacity="0.72"/>
<polyline points="563.0,654.0 579.8,640.0 590.4,629.6 600.0,616.6 619.6,588.0 641.5,563.3 648.8,544.0 655.0,523.8 659.7,509.7 665.2,495.6 673.8,484.7 684.7,474.5 698.8,469.0" fill="none" stroke="#4cc24c" stroke-width="1.05" stroke-dasharray="2.6 2.2" stroke-linejoin="round" opacity="0.8"/>
<polyline points="698.8,469.0 711.3,475.3 723.8,483.0 736.3,492.5 747.2,503.4 759.7,517.5 770.6,523.8 780.0,530.0 789.0,534.0" fill="none" stroke="#e8a850" stroke-width="1.05" stroke-dasharray="2.6 2.2" stroke-linejoin="round" opacity="0.72"/>
<polyline points="789.0,534.0 799.4,533.9 814.6,531.3 824.7,527.5" fill="none" stroke="#a0a0a0" stroke-width="1.05" stroke-dasharray="2.6 2.2" stroke-linejoin="round" opacity="0.6"/>
<polyline points="824.7,527.5 834.9,519.3 843.8,518.0 851.4,514.8 860.3,508.5 869.2,501.5 879.3,495.2 884.0,494.8" fill="none" stroke="#4cc24c" stroke-width="1.05" stroke-dasharray="2.6 2.2" stroke-linejoin="round" opacity="0.8"/>
<polyline points="884.0,494.8 889.8,498.3 896.6,504.2 905.4,506.6 910.3,507.6" fill="none" stroke="#e8a850" stroke-width="1.05" stroke-dasharray="2.6 2.2" stroke-linejoin="round" opacity="0.72"/>
<polyline points="910.3,507.6 917.1,506.1 924.9,504.2 928.8,502.7 933.7,499.8 936.6,497.3 939.6,493.4 943.5,490.5 948.4,488.6 957.1,485.6 965.9,484.6 974.0,483.2" fill="none" stroke="#4cc24c" stroke-width="1.05" stroke-dasharray="2.6 2.2" stroke-linejoin="round" opacity="0.8"/>
<polyline points="46.0,511.2 80.0,511.2 88.0,512.4 115.0,515.8 198.8,515.8 206.0,527.5 220.0,530.6 236.9,540.0 244.7,547.8 253.5,556.6 261.3,563.4 267.1,572.2 273.0,577.5" fill="none" stroke="#4cc24c" stroke-width="1.05" stroke-dasharray="2.6 2.2" stroke-linejoin="round" opacity="0.8"/>
<polyline points="430.0,529.0 432.3,528.5 490.0,526.8 540.0,531.0 578.0,532.0 583.9,540.0 593.0,551.7 604.5,555.0 610.0,566.0 645.0,566.2" fill="none" stroke="#4cc24c" stroke-width="1.05" stroke-dasharray="2.6 2.2" stroke-linejoin="round" opacity="0.8"/>
<polyline points="3.0,521.2 68.0,521.2 90.0,530.0 117.5,542.7 198.8,543.9 204.6,549.8 214.4,551.2 224.0,553.2 234.0,557.0 244.7,560.0 254.5,565.9 262.3,570.3 268.0,574.2 276.0,577.5" fill="none" stroke="#a0a0a0" stroke-width="1.05" stroke-dasharray="2.6 2.2" stroke-linejoin="round" opacity="0.6"/>
<polyline points="283.0,575.2 300.0,570.5 338.0,563.0 360.0,556.0 370.0,551.5 429.7,550.2 440.0,547.5 453.0,545.6 473.9,544.4 481.7,542.5 506.0,542.6 515.0,547.0 530.0,554.3 545.0,561.4 557.9,567.5 576.0,568.0 586.5,575.7 596.9,580.3 614.0,586.6 649.7,587.0 660.0,578.7 673.3,569.6 774.5,569.5 788.8,562.6 805.7,547.0 811.0,539.6 826.0,527.0" fill="none" stroke="#a0a0a0" stroke-width="1.05" stroke-dasharray="2.6 2.2" stroke-linejoin="round" opacity="0.6"/>
<polyline points="872.8,520.8 929.8,520.8 936.6,516.9 942.5,514.0 975.0,512.0" fill="none" stroke="#a0a0a0" stroke-width="1.05" stroke-dasharray="2.6 2.2" stroke-linejoin="round" opacity="0.6"/>
<polyline points="3.0,529.8 70.0,529.8" fill="none" stroke="#e8a850" stroke-width="1.05" stroke-dasharray="2.6 2.2" stroke-linejoin="round" opacity="0.72"/>
<polyline points="283.0,578.3 330.0,576.5 370.0,573.6 425.2,572.9 432.3,569.7 437.5,566.4 446.6,565.5 454.4,564.5 466.0,563.2 474.0,562.3" fill="none" stroke="#e8a850" stroke-width="1.05" stroke-dasharray="2.6 2.2" stroke-linejoin="round" opacity="0.72"/>
<polyline points="622.0,608.5 655.0,607.0 671.7,604.4 774.5,604.5 782.3,593.8 788.8,589.9 799.2,570.4 811.0,545.7 826.0,527.0" fill="none" stroke="#e8a850" stroke-width="1.05" stroke-dasharray="2.6 2.2" stroke-linejoin="round" opacity="0.72"/>
<polyline points="868.0,524.9 928.8,524.9 936.6,523.2 975.0,523.0" fill="none" stroke="#e8a850" stroke-width="1.05" stroke-dasharray="2.6 2.2" stroke-linejoin="round" opacity="0.72"/>
<polygon points="2.0,510.8 8.0,510.3 13.0,508.3 46.0,508.3 46.0,511.7 13.0,511.7 8.0,514.2 2.0,514.6" fill="#32cd32" stroke="#2e9e36" stroke-width="0.6" stroke-opacity="0.55" stroke-linejoin="round"/>
<polyline points="46.0,510.0 53.0,522.0 66.0,524.8 70.0,528.0" fill="none" stroke="#a0a0a0" stroke-width="1.5" stroke-linejoin="round" opacity="1.0"/>
<polygon points="70.0,527.3 83.0,532.0 89.0,538.5 105.0,555.0 116.0,568.8 130.0,571.7 190.0,571.7 200.0,572.0 220.0,573.7 240.0,575.2 255.0,577.0 264.0,579.2 264.0,579.9 250.0,580.0 190.0,580.0 130.0,579.7 116.0,575.0 105.0,559.5 89.0,542.5 83.0,535.2 70.0,529.0" fill="#f8a508" stroke="#c8862a" stroke-width="0.6" stroke-opacity="0.55" stroke-linejoin="round"/>
<polyline points="263.0,579.1 277.0,579.1" fill="none" stroke="#a0a0a0" stroke-width="1.6" stroke-linejoin="round" opacity="1.0"/>
<polygon points="277.0,578.3 283.7,570.3 295.0,570.2 305.0,567.3 320.0,565.3 328.0,561.3 334.5,561.5 345.0,554.6 352.0,546.5 358.0,538.5 366.0,530.5 372.0,522.5 423.2,522.5 429.0,529.2 429.7,531.5 420.0,529.4 372.0,529.4 366.0,536.0 358.0,543.5 352.0,551.5 345.0,558.6 334.5,564.5 328.0,564.0 320.0,567.8 305.0,569.3 295.0,572.0 283.7,572.5 277.0,579.8" fill="#32cd32" stroke="#2e9e36" stroke-width="0.6" stroke-opacity="0.55" stroke-linejoin="round"/>
<polyline points="429.7,530.7 436.9,543.7 440.0,546.3 449.2,547.6 455.7,561.2 475.2,561.2" fill="none" stroke="#a0a0a0" stroke-width="1.5" stroke-linejoin="round" opacity="1.0"/>
<polygon points="475.0,560.3 480.4,558.6 494.9,557.5 507.3,558.8 511.8,564.0 519.6,569.9 530.0,580.3 537.1,582.2 540.4,586.8 543.6,592.0 551.4,592.6 557.9,605.0 576.1,604.3 600.0,608.2 621.0,609.5 622.0,613.6 600.0,614.0 557.3,613.4 551.4,600.0 543.0,599.7 535.8,589.0 530.0,588.7 519.6,577.0 509.9,567.3 504.7,562.0 480.4,561.8 475.0,561.8" fill="#f8a508" stroke="#c8862a" stroke-width="0.6" stroke-opacity="0.55" stroke-linejoin="round"/>
<polyline points="622.0,612.0 627.8,600.3 634.7,597.6 638.8,585.2 647.0,571.5" fill="none" stroke="#a0a0a0" stroke-width="1.5" stroke-linejoin="round" opacity="1.0"/>
<polygon points="647.0,571.0 655.0,556.0 660.2,541.8 667.8,536.8 673.2,524.9 776.0,524.9 826.5,525.1 826.5,526.3 814.6,527.5 804.4,529.4 790.5,532.8 775.2,535.0 673.2,535.0 668.0,543.3 660.2,549.9 655.0,561.0 648.0,572.0" fill="#32cd32" stroke="#2e9e36" stroke-width="0.6" stroke-opacity="0.55" stroke-linejoin="round"/>
<polyline points="826.0,525.6 866.0,525.6 872.4,518.2 879.3,516.0 929.3,516.0" fill="none" stroke="#32cd32" stroke-width="2.4" stroke-linejoin="round" opacity="1.0"/>
<polygon points="928.5,514.6 941.5,501.2 950.0,500.6 960.0,499.6 966.0,498.4 974.7,497.2 974.7,501.4 966.0,501.8 960.0,502.4 950.0,503.4 941.5,504.2 930.0,517.3" fill="#32cd32" stroke="#2e9e36" stroke-width="0.6" stroke-opacity="0.55" stroke-linejoin="round"/>
</g>
<rect x="1.5" y="1" width="977.5" height="1" fill="#4a4a4a"/>
<rect x="1.3" y="1" width="1.5" height="673.5" fill="#7c7c7c"/>
<rect x="978" y="1" width="1.1" height="447.5" fill="#4a4a4a"/>
<rect x="1.5" y="448" width="977.5" height="1" fill="#4a4a4a"/>
<rect x="1.5" y="449" width="977.5" height="1" fill="#9c9c9c"/>
<rect x="1.5" y="450" width="977.5" height="1" fill="#4a4a4a"/>
<rect x="978" y="450" width="1.1" height="224.5" fill="#4a4a4a"/>
<rect x="1.5" y="673.6" width="977.5" height="1" fill="#4a4a4a"/>
<rect x="2.1" y="48.8" width="1.8" height="40.7" fill="#2e7268"/>
<rect x="979" y="13.80" width="3.2" height="1" fill="#4a4a4a"/>
<text x="984.00" y="17.20" font-size="7.9" fill="#222" text-anchor="start" textLength="25.7" lengthAdjust="spacingAndGlyphs">171.500</text>
<rect x="979" y="39.34" width="3.2" height="1" fill="#4a4a4a"/>
<text x="984.00" y="42.74" font-size="7.9" fill="#222" text-anchor="start" textLength="25.7" lengthAdjust="spacingAndGlyphs">171.380</text>
<rect x="979" y="64.88" width="3.2" height="1" fill="#4a4a4a"/>
<text x="984.00" y="68.28" font-size="7.9" fill="#222" text-anchor="start" textLength="25.7" lengthAdjust="spacingAndGlyphs">171.260</text>
<rect x="979" y="90.42" width="3.2" height="1" fill="#4a4a4a"/>
<text x="984.00" y="93.82" font-size="7.9" fill="#222" text-anchor="start" textLength="25.7" lengthAdjust="spacingAndGlyphs">171.140</text>
<rect x="979" y="115.96" width="3.2" height="1" fill="#4a4a4a"/>
<text x="984.00" y="119.36" font-size="7.9" fill="#222" text-anchor="start" textLength="25.7" lengthAdjust="spacingAndGlyphs">171.020</text>
<rect x="979" y="141.50" width="3.2" height="1" fill="#4a4a4a"/>
<text x="984.00" y="144.90" font-size="7.9" fill="#222" text-anchor="start" textLength="25.7" lengthAdjust="spacingAndGlyphs">170.900</text>
<rect x="979" y="167.04" width="3.2" height="1" fill="#4a4a4a"/>
<text x="984.00" y="170.44" font-size="7.9" fill="#222" text-anchor="start" textLength="25.7" lengthAdjust="spacingAndGlyphs">170.780</text>
<rect x="979" y="192.58" width="3.2" height="1" fill="#4a4a4a"/>
<text x="984.00" y="195.98" font-size="7.9" fill="#222" text-anchor="start" textLength="25.7" lengthAdjust="spacingAndGlyphs">170.660</text>
<rect x="979" y="218.12" width="3.2" height="1" fill="#4a4a4a"/>
<text x="984.00" y="221.52" font-size="7.9" fill="#222" text-anchor="start" textLength="25.7" lengthAdjust="spacingAndGlyphs">170.540</text>
<rect x="979" y="243.66" width="3.2" height="1" fill="#4a4a4a"/>
<text x="984.00" y="247.06" font-size="7.9" fill="#222" text-anchor="start" textLength="25.7" lengthAdjust="spacingAndGlyphs">170.420</text>
<rect x="979" y="269.20" width="3.2" height="1" fill="#4a4a4a"/>
<text x="984.00" y="272.60" font-size="7.9" fill="#222" text-anchor="start" textLength="25.7" lengthAdjust="spacingAndGlyphs">170.300</text>
<rect x="979" y="294.74" width="3.2" height="1" fill="#4a4a4a"/>
<text x="984.00" y="298.14" font-size="7.9" fill="#222" text-anchor="start" textLength="25.7" lengthAdjust="spacingAndGlyphs">170.180</text>
<rect x="979" y="320.28" width="3.2" height="1" fill="#4a4a4a"/>
<text x="984.00" y="323.68" font-size="7.9" fill="#222" text-anchor="start" textLength="25.7" lengthAdjust="spacingAndGlyphs">170.060</text>
<rect x="979" y="345.82" width="3.2" height="1" fill="#4a4a4a"/>
<text x="984.00" y="349.22" font-size="7.9" fill="#222" text-anchor="start" textLength="25.7" lengthAdjust="spacingAndGlyphs">169.940</text>
<rect x="979" y="371.36" width="3.2" height="1" fill="#4a4a4a"/>
<text x="984.00" y="374.76" font-size="7.9" fill="#222" text-anchor="start" textLength="25.7" lengthAdjust="spacingAndGlyphs">169.820</text>
<rect x="979" y="396.90" width="3.2" height="1" fill="#4a4a4a"/>
<text x="984.00" y="400.30" font-size="7.9" fill="#222" text-anchor="start" textLength="25.7" lengthAdjust="spacingAndGlyphs">169.700</text>
<rect x="979" y="422.44" width="3.2" height="1" fill="#4a4a4a"/>
<text x="984.00" y="425.84" font-size="7.9" fill="#222" text-anchor="start" textLength="25.7" lengthAdjust="spacingAndGlyphs">169.580</text>
<rect x="981" y="37" width="30.8" height="8.4" fill="#2a9d90"/>
<text x="983.90" y="44.10" font-size="7.6" fill="#ffffff" text-anchor="start" textLength="25.8" lengthAdjust="spacingAndGlyphs">171.373</text>
<rect x="979" y="40.6" width="2.5" height="1" fill="#2a9d90"/>
<rect x="979" y="450" width="3.2" height="1" fill="#4a4a4a"/>
<text x="983.30" y="456.80" font-size="7.9" fill="#222" text-anchor="start" textLength="22.4" lengthAdjust="spacingAndGlyphs">0.1076</text>
<rect x="979" y="673.1" width="3.2" height="1" fill="#4a4a4a"/>
<text x="983.90" y="673.00" font-size="7.9" fill="#222" text-anchor="start" textLength="24.1" lengthAdjust="spacingAndGlyphs">-0.1481</text>
<rect x="1.60" y="674" width="1" height="3.5" fill="#4a4a4a"/>
<text x="1.80" y="684.10" font-size="7.4" fill="#222" text-anchor="start" textLength="37.8" lengthAdjust="spacingAndGlyphs">31 Jul 2024</text>
<rect x="52.80" y="674" width="1" height="3.5" fill="#4a4a4a"/>
<text x="53.00" y="684.10" font-size="7.4" fill="#222" text-anchor="start" textLength="39.8" lengthAdjust="spacingAndGlyphs">31 Jul 21:40</text>
<rect x="104.00" y="674" width="1" height="3.5" fill="#4a4a4a"/>
<text x="104.20" y="684.10" font-size="7.4" fill="#222" text-anchor="start" textLength="39.8" lengthAdjust="spacingAndGlyphs">31 Jul 22:20</text>
<rect x="155.20" y="674" width="1" height="3.5" fill="#4a4a4a"/>
<text x="155.40" y="684.10" font-size="7.4" fill="#222" text-anchor="start" textLength="39.8" lengthAdjust="spacingAndGlyphs">31 Jul 23:00</text>
<rect x="206.40" y="674" width="1" height="3.5" fill="#4a4a4a"/>
<text x="206.60" y="684.10" font-size="7.4" fill="#222" text-anchor="start" textLength="39.8" lengthAdjust="spacingAndGlyphs">31 Jul 23:40</text>
<rect x="257.60" y="674" width="1" height="3.5" fill="#4a4a4a"/>
<text x="257.80" y="684.10" font-size="7.4" fill="#222" text-anchor="start" textLength="40.4" lengthAdjust="spacingAndGlyphs">1 Aug 00:40</text>
<rect x="308.80" y="674" width="1" height="3.5" fill="#4a4a4a"/>
<text x="309.00" y="684.10" font-size="7.4" fill="#222" text-anchor="start" textLength="40.4" lengthAdjust="spacingAndGlyphs">1 Aug 01:20</text>
<rect x="360.00" y="674" width="1" height="3.5" fill="#4a4a4a"/>
<text x="360.20" y="684.10" font-size="7.4" fill="#222" text-anchor="start" textLength="40.4" lengthAdjust="spacingAndGlyphs">1 Aug 02:00</text>
<rect x="411.20" y="674" width="1" height="3.5" fill="#4a4a4a"/>
<text x="411.40" y="684.10" font-size="7.4" fill="#222" text-anchor="start" textLength="40.4" lengthAdjust="spacingAndGlyphs">1 Aug 02:40</text>
<rect x="462.40" y="674" width="1" height="3.5" fill="#4a4a4a"/>
<text x="462.60" y="684.10" font-size="7.4" fill="#222" text-anchor="start" textLength="40.4" lengthAdjust="spacingAndGlyphs">1 Aug 03:20</text>
<rect x="513.60" y="674" width="1" height="3.5" fill="#4a4a4a"/>
<text x="513.80" y="684.10" font-size="7.4" fill="#222" text-anchor="start" textLength="40.4" lengthAdjust="spacingAndGlyphs">1 Aug 04:00</text>
<rect x="564.80" y="674" width="1" height="3.5" fill="#4a4a4a"/>
<text x="565.00" y="684.10" font-size="7.4" fill="#222" text-anchor="start" textLength="40.4" lengthAdjust="spacingAndGlyphs">1 Aug 04:40</text>
<rect x="616.00" y="674" width="1" height="3.5" fill="#4a4a4a"/>
<text x="616.20" y="684.10" font-size="7.4" fill="#222" text-anchor="start" textLength="40.4" lengthAdjust="spacingAndGlyphs">1 Aug 05:20</text>
<rect x="667.20" y="674" width="1" height="3.5" fill="#4a4a4a"/>
<text x="667.40" y="684.10" font-size="7.4" fill="#222" text-anchor="start" textLength="40.4" lengthAdjust="spacingAndGlyphs">1 Aug 06:00</text>
<rect x="718.40" y="674" width="1" height="3.5" fill="#4a4a4a"/>
<text x="718.60" y="684.10" font-size="7.4" fill="#222" text-anchor="start" textLength="40.4" lengthAdjust="spacingAndGlyphs">1 Aug 06:40</text>
<rect x="769.60" y="674" width="1" height="3.5" fill="#4a4a4a"/>
<text x="769.80" y="684.10" font-size="7.4" fill="#222" text-anchor="start" textLength="40.4" lengthAdjust="spacingAndGlyphs">1 Aug 07:20</text>
<rect x="820.80" y="674" width="1" height="3.5" fill="#4a4a4a"/>
<text x="821.00" y="684.10" font-size="7.4" fill="#222" text-anchor="start" textLength="40.4" lengthAdjust="spacingAndGlyphs">1 Aug 08:00</text>
<rect x="872.00" y="674" width="1" height="3.5" fill="#4a4a4a"/>
<text x="872.20" y="684.10" font-size="7.4" fill="#222" text-anchor="start" textLength="40.4" lengthAdjust="spacingAndGlyphs">1 Aug 08:40</text>
<rect x="923.20" y="674" width="1" height="3.5" fill="#4a4a4a"/>
<text x="923.40" y="684.10" font-size="7.4" fill="#222" text-anchor="start" textLength="40.4" lengthAdjust="spacingAndGlyphs">1 Aug 09:20</text>
<rect x="974.40" y="674" width="1" height="3.5" fill="#4a4a4a"/>
<text x="974.60" y="684.10" font-size="7.4" fill="#222" text-anchor="start" textLength="40.4" lengthAdjust="spacingAndGlyphs">1 Aug 10:00</text>
<path d="M0,690.5 H2.5 Q3.5,690.5 3.5,691.5 V693" fill="none" stroke="#555" stroke-width="1.2"/>
<path d="M70,693 V691.8 Q70,690.6 71.2,690.6 H1021" fill="none" stroke="#6a6a6a" stroke-width="1.8"/>
<rect x="5.3" y="5.1" width="12.5" height="9.7" rx="1.6" fill="#d9a4a4"/>
<rect x="5.6" y="5.4" width="11.9" height="9.1" rx="1.4" fill="none" stroke="#c49090" stroke-width="0.6"/>
<path d="M11.6,5.1 H16.2 Q17.8,5.1 17.8,6.7 V13.2 Q17.8,14.8 16.2,14.8 H11.6 Z" fill="#7fb6d2"/>
<path d="M16.2,5.4 Q17.5,5.4 17.5,6.8 V13.1 Q17.5,14.5 16.2,14.5 H11.8" fill="none" stroke="#5d9aa0" stroke-width="0.7"/>
<rect x="11.3" y="5.5" width="0.6" height="9" fill="#eef2f5"/>
<rect x="7" y="7.1" width="4" height="0.9" fill="#b07070"/>
<rect x="12.2" y="7.1" width="4.3" height="0.9" fill="#3f7f9f"/>
<rect x="7" y="9.7" width="4" height="0.9" fill="#c07a7a"/>
<rect x="12.2" y="9.7" width="4.3" height="0.9" fill="#4f8fb0"/>
<rect x="7" y="12.3" width="4" height="0.9" fill="#a86868"/>
<rect x="12.2" y="12.3" width="4.3" height="0.9" fill="#3a7a9a"/>
<rect x="7" y="8.3" width="4" height="0.8" fill="#ffd6d6"/>
<rect x="12.2" y="8.3" width="4.3" height="0.8" fill="#cfeefc"/>
<rect x="7" y="11.0" width="4" height="0.8" fill="#ffd6d6"/>
<rect x="12.2" y="11.0" width="4.3" height="0.8" fill="#cfeefc"/>
<text x="21.60" y="13.10" font-size="8.5" fill="#2a2a2a" text-anchor="start" textLength="141.9" lengthAdjust="spacingAndGlyphs" xml:space="preserve">CHFJPY, M5:  Swiss Frank vs Japanese Yen</text>
<text x="5.90" y="460.00" font-size="7.8" fill="#2a2a2a" text-anchor="start" textLength="288.4" lengthAdjust="spacingAndGlyphs">&quot;Corrected&quot; velocity (32,0,25) -0.0002 -0.0024 -0.0024 -0.0112 -0.0200 0.0119 -0.0002</text>
</svg>
</body></html>
